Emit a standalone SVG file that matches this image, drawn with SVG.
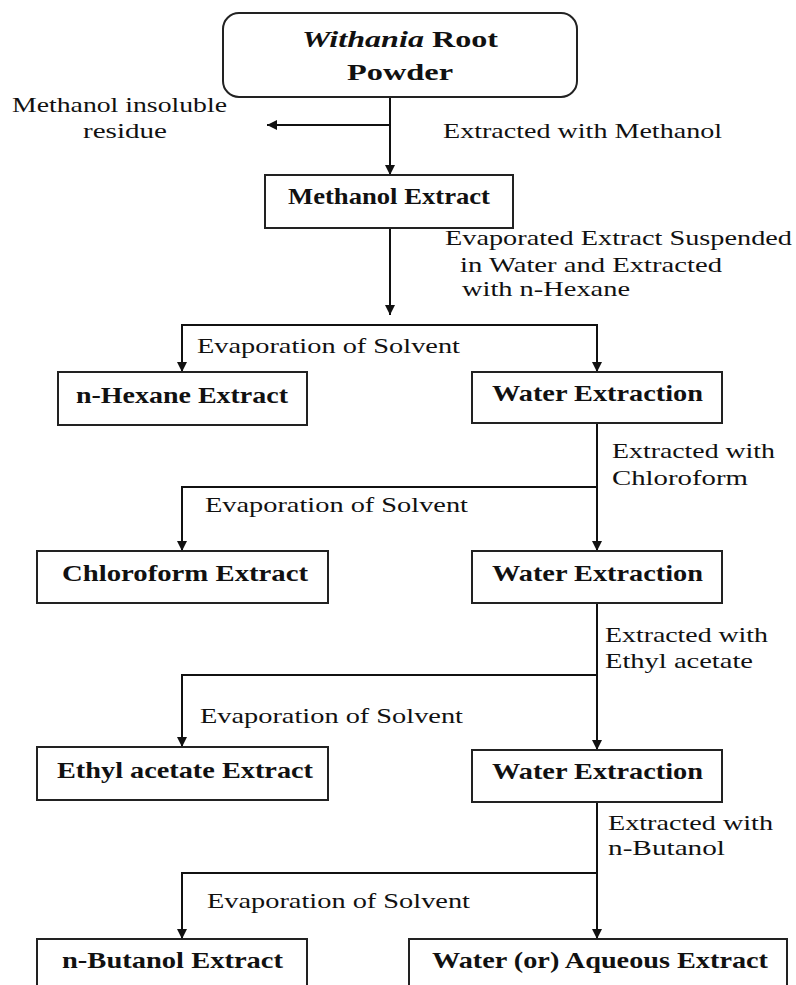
<svg xmlns="http://www.w3.org/2000/svg" width="796" height="985" viewBox="0 0 796 985">
<defs>
<marker id="arr" markerUnits="userSpaceOnUse" markerWidth="11" markerHeight="11" refX="10" refY="5" orient="auto">
<path d="M0,0 L10,5 L0,10 z" fill="#111"/>
</marker>
<style>
.box{fill:#fff;stroke:#222;stroke-width:2}
.b{font-family:"Liberation Serif","Times New Roman",serif;font-weight:bold;font-size:24px;fill:#111}
.t{font-family:"Liberation Serif","Times New Roman",serif;font-size:22px;fill:#111}
.c line,.c polyline{stroke:#111;stroke-width:2;fill:none}
</style>
</defs>
<rect width="796" height="985" fill="#fff"/>
<g class="c" id="connectors">
<line x1="390" y1="97" x2="390" y2="175" marker-end="url(#arr)"/>
<line x1="390" y1="125" x2="267" y2="125" marker-end="url(#arr)"/>
<line x1="390" y1="228" x2="390" y2="315" marker-end="url(#arr)"/>
<polyline points="182,372 182,325 597,325 597,372" marker-end="url(#arr)"/>
<line x1="182" y1="325" x2="182" y2="372" marker-end="url(#arr)"/>
<line x1="597" y1="423" x2="597" y2="551" marker-end="url(#arr)"/>
<polyline points="597,487 182,487 182,551" marker-end="url(#arr)"/>
<line x1="597" y1="603" x2="597" y2="750" marker-end="url(#arr)"/>
<polyline points="597,675 182,675 182,747" marker-end="url(#arr)"/>
<line x1="597" y1="802" x2="597" y2="939" marker-end="url(#arr)"/>
<polyline points="597,873 182,873 182,939" marker-end="url(#arr)"/>
</g>
<g id="labels">
<text class="t" x="12" y="112" textLength="215" lengthAdjust="spacingAndGlyphs">Methanol insoluble</text>
<text class="t" x="83" y="138" textLength="84" lengthAdjust="spacingAndGlyphs">residue</text>
<text class="t" x="443" y="138" textLength="279" lengthAdjust="spacingAndGlyphs">Extracted with Methanol</text>
<text class="t" x="445" y="245" textLength="347" lengthAdjust="spacingAndGlyphs">Evaporated Extract Suspended</text>
<text class="t" x="460" y="272" textLength="262" lengthAdjust="spacingAndGlyphs">in Water and Extracted</text>
<text class="t" x="462" y="296" textLength="168" lengthAdjust="spacingAndGlyphs">with n-Hexane</text>
<text class="t" x="197" y="353" textLength="263" lengthAdjust="spacingAndGlyphs">Evaporation of Solvent</text>
<text class="t" x="612" y="458" textLength="163" lengthAdjust="spacingAndGlyphs">Extracted with</text>
<text class="t" x="612" y="485" textLength="136" lengthAdjust="spacingAndGlyphs">Chloroform</text>
<text class="t" x="205" y="512" textLength="263" lengthAdjust="spacingAndGlyphs">Evaporation of Solvent</text>
<text class="t" x="605" y="642" textLength="163" lengthAdjust="spacingAndGlyphs">Extracted with</text>
<text class="t" x="605" y="668" textLength="148" lengthAdjust="spacingAndGlyphs">Ethyl acetate</text>
<text class="t" x="200" y="723" textLength="263" lengthAdjust="spacingAndGlyphs">Evaporation of Solvent</text>
<text class="t" x="608" y="830" textLength="165" lengthAdjust="spacingAndGlyphs">Extracted with</text>
<text class="t" x="608" y="855" textLength="117" lengthAdjust="spacingAndGlyphs">n-Butanol</text>
<text class="t" x="207" y="908" textLength="263" lengthAdjust="spacingAndGlyphs">Evaporation of Solvent</text>
</g>
<g id="root">
<rect class="box" x="223" y="13" width="354" height="84" rx="16"/>
<text class="b" x="302" y="47" font-size="25" textLength="196" lengthAdjust="spacingAndGlyphs"><tspan font-style="italic">Withania</tspan> Root</text>
<text class="b" x="347" y="80" font-size="25" textLength="106" lengthAdjust="spacingAndGlyphs">Powder</text>
</g>
<g id="methanol">
<rect class="box" x="265" y="175" width="248" height="53"/>
<text class="b" x="288" y="204" textLength="202" lengthAdjust="spacingAndGlyphs">Methanol Extract</text>
</g>
<g id="hexane">
<rect class="box" x="58" y="372" width="249" height="53"/>
<text class="b" x="76" y="403" textLength="212" lengthAdjust="spacingAndGlyphs">n-Hexane Extract</text>
</g>
<g id="water1">
<rect class="box" x="472" y="372" width="250" height="51"/>
<text class="b" x="492" y="401" textLength="211" lengthAdjust="spacingAndGlyphs">Water Extraction</text>
</g>
<g id="chloroform">
<rect class="box" x="37" y="551" width="291" height="52"/>
<text class="b" x="62" y="581" textLength="246" lengthAdjust="spacingAndGlyphs">Chloroform Extract</text>
</g>
<g id="water2">
<rect class="box" x="472" y="551" width="250" height="52"/>
<text class="b" x="492" y="581" textLength="211" lengthAdjust="spacingAndGlyphs">Water Extraction</text>
</g>
<g id="ethyl">
<rect class="box" x="37" y="747" width="291" height="53"/>
<text class="b" x="57" y="778" textLength="256" lengthAdjust="spacingAndGlyphs">Ethyl acetate Extract</text>
</g>
<g id="water3">
<rect class="box" x="472" y="750" width="250" height="52"/>
<text class="b" x="492" y="779" textLength="211" lengthAdjust="spacingAndGlyphs">Water Extraction</text>
</g>
<g id="butanol">
<rect class="box" x="37" y="939" width="270" height="60"/>
<text class="b" x="62" y="968" textLength="221" lengthAdjust="spacingAndGlyphs">n-Butanol Extract</text>
</g>
<g id="aqueous">
<rect class="box" x="409" y="939" width="378" height="60"/>
<text class="b" x="432" y="968" textLength="336" lengthAdjust="spacingAndGlyphs">Water (or) Aqueous Extract</text>
</g>
</svg>
